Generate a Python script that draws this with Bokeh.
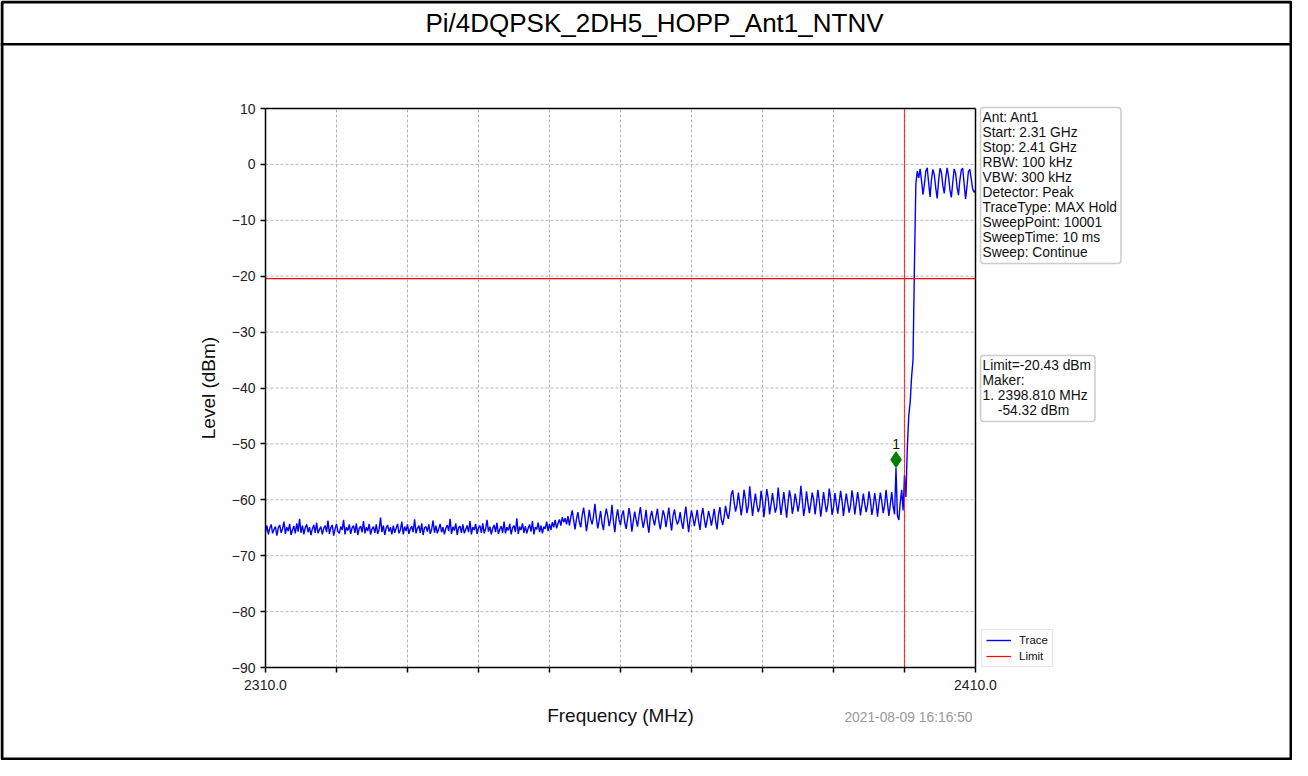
import numpy as np
from bokeh.plotting import figure
from bokeh.models import (Range1d, FixedTicker, Label, BoxAnnotation,
                          Legend, LegendItem, LinearAxis)
from bokeh.embed import file_html
from bokeh.resources import INLINE

# ---------------- data ----------------
title_text = "Pi/4DQPSK_2DH5_HOPP_Ant1_NTNV"
freq_start = 2310.0
freq_stop = 2410.0
level_min = -90.0
level_max = 10.0

# trace levels (dBm), 0.2 MHz per point
seg_low = [
    -65.8, -64.6, -66.2, -65.1, -64.4, -66.0, -65.3, -64.8, -66.4, -65.0,
    -64.5, -65.9, -65.2, -63.9, -66.1, -64.9, -65.6, -64.3, -66.3, -65.4,
    -64.7, -66.0, -64.2, -65.7, -63.4, -65.9, -64.6, -66.2, -65.0, -64.4,
    -65.8, -64.9, -66.3, -65.2, -64.5, -65.9, -64.1, -66.0, -65.3, -64.8,
    -66.2, -65.1, -64.6, -65.8, -63.7, -66.1, -65.0, -64.5, -66.4, -65.2,
    -64.3, -65.7, -66.0, -64.8, -65.4, -63.6, -66.2, -64.9, -65.5, -64.4,
    -66.1, -65.0, -64.6, -65.9, -64.2, -66.3, -65.1, -64.7, -65.8, -63.8,
    -66.0, -64.9, -65.6, -64.3, -66.2, -65.2, -64.8, -65.9, -64.4, -66.1,
    -65.3, -63.2, -65.8, -64.6, -66.3, -65.0, -64.5, -65.7, -64.9, -66.2,
    -64.6, -65.9, -65.1, -64.3, -66.0, -65.4, -63.9, -66.2, -64.8, -65.6,
    -64.4, -66.1, -65.2, -64.7, -65.8, -63.5, -66.0, -65.1, -64.6, -65.9,
    -64.2, -66.3, -65.0, -64.8, -65.7, -64.4, -66.1, -65.3, -63.7, -65.9,
    -64.6, -66.0, -65.2, -64.3, -65.8, -64.9, -66.2, -65.1, -64.5, -65.6,
    -63.4, -66.1, -64.8, -65.5, -64.2, -66.3, -65.0, -64.7, -65.9, -64.4,
    -66.0, -65.3, -64.6, -65.8, -63.8, -66.2, -64.9, -65.4, -64.3, -66.1,
    -65.0, -64.6, -65.9, -64.2, -66.0, -65.2, -63.6, -65.7, -64.8, -66.2,
    -65.1, -64.5, -65.8, -64.1, -66.1, -65.3, -64.7, -65.9, -63.9, -66.0,
    -64.9, -65.5, -64.3, -66.2, -65.0, -64.6, -65.8, -63.3, -66.1, -64.8,
    -65.4, -64.2, -65.9, -64.7, -66.0, -65.1, -64.4, -65.7, -63.8, -66.2,
    -64.9, -65.3, -64.1, -65.8, -64.6, -66.0, -64.8, -65.2, -63.9, -65.6,
    -64.3, -65.4, -64.0, -64.9, -63.6, -65.1, -64.2, -63.5, -64.6, -63.1,
    -64.0, -63.3, -64.4, -62.9,
]
seg_mid = [
    -64.6, -63.1, -61.9, -63.7, -65.3, -63.4, -62.2, -64.0,
    -64.9, -62.8, -61.4, -63.2, -65.6, -63.9, -61.8, -63.5,
    -64.4, -62.9, -60.7, -63.3, -65.1, -63.6, -62.0, -64.2,
    -65.4, -63.0, -61.6, -62.9, -64.7, -63.5, -60.9, -63.8,
    -65.8, -63.2, -61.7, -63.6, -64.5, -62.7, -61.9, -64.1,
    -65.2, -63.4, -61.5, -63.0, -65.7, -63.8, -62.1, -63.6,
    -64.8, -62.9, -61.3, -63.4, -65.0, -63.7, -61.8, -64.3,
    -65.9, -63.1, -62.0, -63.5, -64.6, -63.0, -61.6, -63.9,
    -65.3, -63.6, -61.9, -62.8, -64.9, -63.3, -61.4, -63.7,
    -65.5, -62.9, -61.7, -63.4, -64.4, -63.8, -62.2, -64.0,
    -65.2, -63.0, -61.2, -63.6, -65.8, -63.5, -61.9, -63.2,
    -64.7, -63.3, -61.8, -63.9, -65.4, -62.8, -61.5, -63.4,
    -65.0, -63.7, -62.0, -63.1, -64.6, -63.2, -61.6, -63.8,
    -65.3, -62.7, -61.3, -63.5, -64.5, -63.0, -61.1, -62.6,
    -63.4, -61.8,
]
seg_high = [
    -59.0, -58.3, -60.4, -62.1, -61.0, -58.7, -60.6, -62.8,
    -60.9, -58.2, -59.9, -62.4, -61.2, -57.6, -60.3, -62.9,
    -60.7, -58.9, -60.8, -62.2, -61.4, -58.4, -60.1, -63.1,
    -60.6, -58.1, -59.7, -62.6, -60.9, -58.8, -60.5, -62.3,
    -61.3, -57.8, -60.2, -62.7, -60.8, -58.6, -60.9, -63.2,
    -60.5, -58.3, -59.8, -62.5, -61.1, -58.9, -60.4, -62.1,
    -60.7, -57.5, -60.0, -62.9, -61.2, -58.5, -60.6, -62.4,
    -60.8, -58.7, -59.9, -62.6, -60.6, -58.2, -60.3, -63.0,
    -61.0, -58.6, -60.5, -62.2, -60.9, -58.0, -59.8, -62.7,
    -61.3, -58.8, -60.7, -62.5, -60.5, -58.4, -60.2, -62.9,
    -60.8, -58.9, -60.6, -62.3, -61.1, -58.3, -60.0, -62.6,
    -60.7, -58.6, -60.4, -62.8, -61.0, -58.9, -60.7, -62.2,
    -60.9, -58.5, -60.1, -62.7, -61.2, -58.8, -60.5, -63.0,
    -60.6, -58.7, -60.3, -62.4, -61.0, -58.2, -60.6, -62.9,
    -60.8, -58.6, -61.2, -62.6,
]
seg_edge = [
    -54.3, -62.8, -63.6, -60.5, -58.2, -61.9, -55.6, -59.5, -50.5,
    -45.0, -42.5, -38.0, -35.0, -18.0, -3.5, -1.2, -2.4,
]
seg_band = [
    -0.8, -2.9, -5.4, -3.6, -1.2,
    -0.6, -3.3, -5.8, -2.7, -0.9,
    -1.9, -4.2, -6.1, -3.0, -0.7,
    -1.4, -3.8, -5.2, -2.5, -0.6,
    -2.1, -4.6, -5.9, -3.2, -0.8,
    -1.6, -4.0, -5.5, -2.8, -1.0,
    -0.7, -3.5, -6.2, -3.9, -1.3,
    -0.9, -2.6, -4.4, -5.0, -4.6,
]
trace_levels = seg_low + seg_mid + seg_high + seg_edge + seg_band

limit_level = -20.43
limit_freq = 2400.0
marker_freq = 2398.81
marker_level = -54.32
marker_name = "1"

x_ticks = [2310, 2320, 2330, 2340, 2350, 2360, 2370, 2380, 2390, 2400, 2410]
x_tick_labels = ["2310.0", "", "", "", "", "", "", "", "", "", "2410.0"]
y_ticks = [-90, -80, -70, -60, -50, -40, -30, -20, -10, 0, 10]
y_tick_labels = ["\u221290", "\u221280", "\u221270", "\u221260", "\u221250",
                 "\u221240", "\u221230", "\u221220", "\u221210", "0", "10"]

info_lines = ["Ant: Ant1", "Start: 2.31 GHz", "Stop: 2.41 GHz", "RBW: 100 kHz",
              "VBW: 300 kHz", "Detector: Peak", "TraceType: MAX Hold",
              "SweepPoint: 10001", "SweepTime: 10 ms", "Sweep: Continue"]
marker_lines = ["Limit=-20.43 dBm", "Maker:", "1. 2398.810 MHz",
                "\u00a0\u00a0\u00a0\u00a0-54.32 dBm"]
timestamp = "2021-08-09 16:16:50"

# ---------------- layout (pixels) ----------------
FONT = "Liberation Sans"
W, H = 1292, 760
BOX_L, BOX_R, BOX_T, BOX_B = 265, 975, 108, 667   # plot box on the canvas

sx = (BOX_R - BOX_L) / (freq_stop - freq_start)
sy = (BOX_B - BOX_T) / (level_max - level_min)
x_range = Range1d(freq_start - BOX_L / sx, freq_start + (W - BOX_L) / sx)
y_range = Range1d(level_min - (H - BOX_B) / sy, level_max + BOX_T / sy)


def X(px):
    return x_range.start + px / sx


def Y(py):
    return y_range.end - py / sy


freqs = np.linspace(freq_start, freq_stop, len(trace_levels))

p = figure(width=W, height=H, output_backend="svg", toolbar_location=None,
           x_range=x_range, y_range=y_range,
           x_axis_location=None, y_axis_location=None,
           min_border=0, min_border_left=0, min_border_right=0,
           min_border_top=0, min_border_bottom=0)
p.title.visible = False
p.background_fill_color = "white"
p.border_fill_color = "white"
p.outline_line_color = None
p.grid.visible = False


def style_axis(ax):
    ax.axis_line_color = "black"
    ax.axis_line_width = 1.5
    ax.major_tick_line_color = "black"
    ax.major_tick_line_width = 1.5
    ax.major_tick_out = 5
    ax.major_tick_in = 0
    ax.minor_tick_line_color = None
    ax.major_label_text_font = FONT
    ax.major_label_text_font_size = "14px"
    ax.major_label_text_color = "#222222"
    ax.axis_label_text_font = FONT
    ax.axis_label_text_font_size = "19px"
    ax.axis_label_text_font_style = "normal"
    ax.axis_label_text_color = "#111111"


xaxis = LinearAxis(fixed_location=level_min, bounds=(freq_start, freq_stop),
                   ticker=FixedTicker(ticks=x_ticks),
                   major_label_overrides={t: s for t, s in zip(x_ticks, x_tick_labels)},
                   axis_label="Frequency (MHz)")
style_axis(xaxis)
xaxis.major_label_standoff = 7
xaxis.axis_label_standoff = 12
p.add_layout(xaxis, "below")

yaxis = LinearAxis(fixed_location=freq_start, bounds=(level_min, level_max),
                   ticker=FixedTicker(ticks=y_ticks),
                   major_label_overrides={t: s for t, s in zip(y_ticks, y_tick_labels)},
                   axis_label="Level (dBm)")
style_axis(yaxis)
yaxis.major_label_standoff = 5
yaxis.axis_label_standoff = 10
p.add_layout(yaxis, "left")

# top and right spines
top_spine = LinearAxis(fixed_location=level_max, bounds=(freq_start, freq_stop),
                       ticker=FixedTicker(ticks=[]))
style_axis(top_spine)
p.add_layout(top_spine, "above")
right_spine = LinearAxis(fixed_location=freq_stop, bounds=(level_min, level_max),
                         ticker=FixedTicker(ticks=[]))
style_axis(right_spine)
p.add_layout(right_spine, "right")

# dashed grid at the inner ticks
gx = x_ticks[1:-1]
gy = y_ticks[1:-1]
p.segment(x0=gx, x1=gx, y0=[level_min] * len(gx), y1=[level_max] * len(gx),
          line_color="#b4b4b4", line_dash="3 2", line_width=1)
p.segment(x0=[freq_start] * len(gy), x1=[freq_stop] * len(gy), y0=gy, y1=gy,
          line_color="#b4b4b4", line_dash="3 2", line_width=1)

# trace
trace_r = p.line(freqs, trace_levels, line_color="blue", line_width=1.4)

# limits
limit_r = p.line([freq_start, freq_stop], [limit_level, limit_level],
                 line_color="red", line_width=1.2)
p.line([limit_freq, limit_freq], [level_min, level_max], line_color="red",
       line_width=1.2, line_alpha=0.75)

# marker
p.scatter([marker_freq], [marker_level + 1.5], marker="diamond", size=16,
          fill_color="green", line_color="green")
p.add_layout(Label(x=marker_freq, y=marker_level, text=marker_name, y_offset=24,
                   text_align="center", text_baseline="middle",
                   text_font=FONT, text_font_size="14px", text_color="#111111"))

# legend
legend = Legend(items=[LegendItem(label="Trace", renderers=[trace_r]),
                       LegendItem(label="Limit", renderers=[limit_r])],
                location=(981, H - 667), orientation="vertical",
                label_text_font=FONT, label_text_font_size="11.5px",
                label_text_color="#111111",
                glyph_width=25, glyph_height=12, spacing=4, padding=4, margin=0,
                label_standoff=8, border_line_color="#cccccc",
                border_line_width=1.5, background_fill_color="white")
p.add_layout(legend, "center")

# info boxes
box_style = dict(text_align="left", text_baseline="top", text_font=FONT,
                 text_font_size="13.8px", text_line_height=1.0,
                 text_color="#111111", padding=(2, 4, 2, 4),
                 border_line_color="#cccccc", border_line_width=1.5,
                 background_fill_color="white", border_radius=3)
p.add_layout(Label(x=freq_stop, y=level_max, x_offset=5, y_offset=1,
                   text="\n".join(info_lines), **box_style))
p.add_layout(Label(x=freq_stop, y=level_max, x_offset=5, y_offset=-247,
                   text="\n".join(marker_lines), **box_style))

# timestamp
p.add_layout(Label(x=freq_stop, y=level_min, x_offset=-3, y_offset=-50,
                   text=timestamp, text_align="right", text_baseline="middle",
                   text_font=FONT, text_font_size="13.8px", text_color="#999999"))

# page frame and title
p.add_layout(BoxAnnotation(left=X(1.5), right=X(W - 1.5), top=Y(1.5),
                           bottom=Y(H - 1.5), fill_alpha=0, line_color="black",
                           line_alpha=1, line_width=3))
p.add_layout(BoxAnnotation(left=X(0), right=X(W), top=Y(42.5), bottom=Y(45),
                           fill_color="black", fill_alpha=1, line_alpha=0))
p.add_layout(Label(x=X(654), y=Y(22), text=title_text, text_align="center",
                   text_baseline="middle", text_font=FONT, text_font_size="26px",
                   text_color="black"))

open("out.html", "w").write(file_html(p, INLINE))
